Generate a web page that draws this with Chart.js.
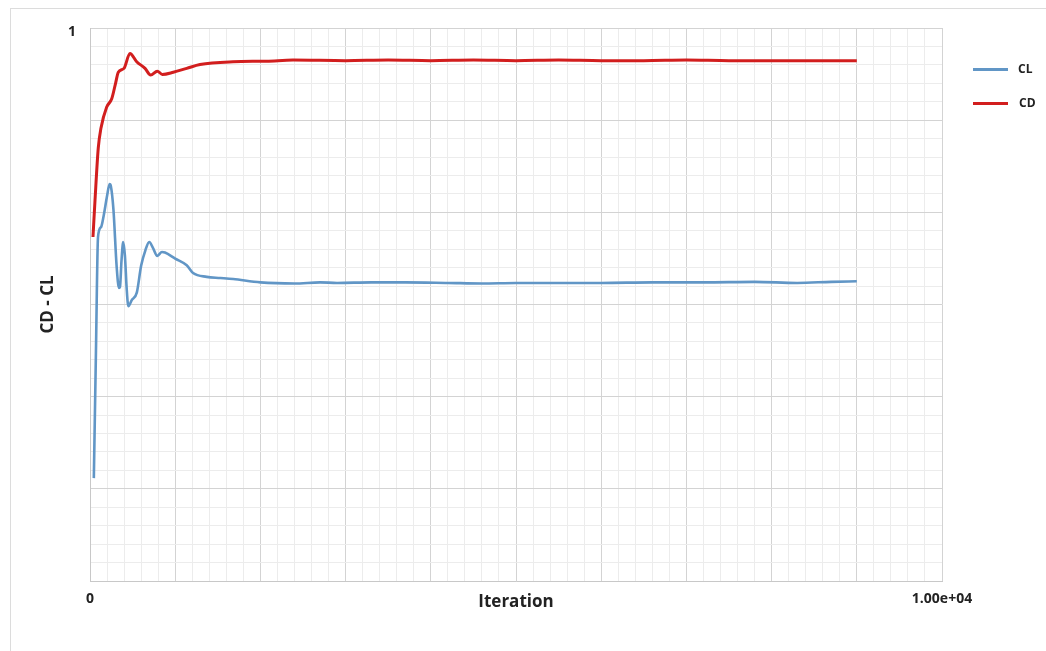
<!DOCTYPE html>
<html>
<head>
<meta charset="utf-8">
<script src="https://cdn.jsdelivr.net/npm/chart.js@4"></script>
<style>
  html, body { margin: 0; padding: 0; background: #ffffff; }
  #wrap { position: relative; width: 1046px; height: 651px; overflow: hidden; background: #fff; }
  #frame { position: absolute; left: 10px; top: 8px; width: 1100px; height: 700px;
           border-left: 1px solid #dcdcdc; border-top: 1px solid #dcdcdc; pointer-events: none; }
  canvas { position: absolute; left: 0; top: 0; }
  .leg { position: absolute; font-family: "Open Sans", "Liberation Sans", sans-serif; font-weight: bold;
         font-size: 12px; color: #222; }
  .leg .ln { position: absolute; width: 35px; height: 3px; }
  .leg .tx { position: absolute; white-space: nowrap; }
</style>
</head>
<body>
<div id="wrap">
  <div id="frame"></div>
  <canvas id="c" width="1046" height="651"></canvas>
  <div id="legend"></div>
</div>
<script>
// ---- data ----
const seriesNames = ['CL', 'CD'];
const seriesColors = ['#6196c6', '#d21e1e'];

const clIter = [45, 70, 94, 130, 160, 200, 230, 245, 275, 313, 340, 352, 370, 390, 410, 430, 450, 490, 550, 600, 650, 695, 740, 790, 845, 880, 1000, 1135, 1210, 1370, 1530, 1680, 2000, 2400, 2700, 2900, 3300, 3700, 4200, 4600, 5000, 5500, 6000, 6600, 7200, 7800, 8300, 8700, 9000];
const clValues = [0.186, 0.417, 0.622, 0.640, 0.660, 0.696, 0.718, 0.714, 0.672, 0.568, 0.530, 0.532, 0.580, 0.613, 0.588, 0.530, 0.497, 0.508, 0.522, 0.570, 0.598, 0.613, 0.602, 0.588, 0.595, 0.594, 0.583, 0.571, 0.557, 0.550, 0.548, 0.546, 0.540, 0.538, 0.540, 0.539, 0.540, 0.540, 0.539, 0.538, 0.539, 0.539, 0.539, 0.540, 0.540, 0.541, 0.539, 0.541, 0.542];

const cdIter = [35, 59, 97, 129, 196, 255, 300, 332, 399, 469, 548, 646, 712, 790, 849, 978, 1135, 1291, 1678, 2074, 2383, 3000, 3500, 4000, 4500, 5000, 5500, 6000, 6500, 7000, 7500, 8000, 8500, 9000];
const cdValues = [0.622, 0.689, 0.783, 0.819, 0.857, 0.872, 0.900, 0.920, 0.927, 0.954, 0.939, 0.927, 0.915, 0.922, 0.916, 0.920, 0.927, 0.934, 0.939, 0.940, 0.942, 0.941, 0.942, 0.941, 0.942, 0.941, 0.942, 0.941, 0.941, 0.942, 0.941, 0.941, 0.941, 0.941];

const xMin = 0, xMax = 10000, xMinorStep = 200, xMajorEvery = 5;
const yMin = 0, yMax = 1, yDivisions = 30, yMajorEvery = 5;
const xTickLabels = {0: '0', 10000: '1.00e+04'};
const yTickLabels = {30: '1'};
const xTitle = 'Iteration';
const yTitle = 'CD - CL';

// ---- build ----
const toPts = (xs, ys) => xs.map((x, i) => ({x: x, y: ys[i]}));

const majorGrid = '#d3d3d3', minorGrid = '#ececec';
const fontFam = '"Open Sans", "Liberation Sans", sans-serif';

new Chart(document.getElementById('c'), {
  type: 'line',
  data: {
    datasets: [
      { label: seriesNames[0], data: toPts(clIter, clValues), borderColor: seriesColors[0],
        borderWidth: 2.6, pointRadius: 0, cubicInterpolationMode: 'monotone', fill: false },
      { label: seriesNames[1], data: toPts(cdIter, cdValues), borderColor: seriesColors[1],
        borderWidth: 3, pointRadius: 0, cubicInterpolationMode: 'monotone', fill: false }
    ]
  },
  options: {
    responsive: false,
    animation: false,
    events: [],
    layout: { padding: { left: 38, right: 104, top: 28, bottom: 39 } },
    plugins: { legend: { display: false }, tooltip: { enabled: false } },
    scales: {
      x: {
        type: 'linear', min: xMin, max: xMax,
        afterBuildTicks: (s) => {
          const t = [];
          for (let v = xMin; v <= xMax; v += xMinorStep) t.push({value: v});
          s.ticks = t;
        },
        afterFit: (s) => { s.height = 31; },
        grid: {
          drawTicks: false,
          color: (ctx) => (ctx.index % xMajorEvery === 0 ? majorGrid : minorGrid),
          lineWidth: 1
        },
        border: { color: '#c8c8c8', width: 1 },
        ticks: {
          autoSkip: false, maxRotation: 0, minRotation: 0, padding: 10,
          color: '#222', font: { family: fontFam, weight: 'bold', size: 14 },
          callback: (v) => (xTickLabels[v] !== undefined ? xTickLabels[v] : '')
        },
        title: {
          display: true, text: xTitle, padding: 0, color: '#222',
          font: { family: fontFam, weight: 'bold', size: 17 }
        }
      },
      y: {
        type: 'linear', min: yMin, max: yMax,
        afterBuildTicks: (s) => {
          const t = [];
          for (let i = 0; i <= yDivisions; i++) t.push({value: yMin + (yMax - yMin) * i / yDivisions});
          s.ticks = t;
        },
        afterFit: (s) => { s.width = 52; },
        grid: {
          drawTicks: false,
          color: (ctx) => (ctx.index % yMajorEvery === 0 ? majorGrid : minorGrid),
          lineWidth: 1
        },
        border: { color: '#c8c8c8', width: 1 },
        ticks: {
          autoSkip: false, padding: 14, labelOffset: 4,
          color: '#222', font: { family: fontFam, weight: 'bold', size: 14 },
          callback: (v, i) => (yTickLabels[i] !== undefined ? yTickLabels[i] : '')
        },
        title: {
          display: true, text: yTitle, padding: 0, color: '#222',
          font: { family: fontFam, weight: 'bold', size: 17 }
        }
      }
    }
  }
});

// ---- HTML legend built from the series ----
const legend = document.getElementById('legend');
const legTop = [69, 103];
seriesNames.forEach((name, i) => {
  const d = document.createElement('div');
  d.className = 'leg';
  d.style.left = '0px'; d.style.top = '0px';
  const ln = document.createElement('div');
  ln.className = 'ln';
  ln.style.left = '973px'; ln.style.top = (legTop[i] - 1) + 'px';
  ln.style.background = seriesColors[i];
  const tx = document.createElement('div');
  tx.className = 'tx';
  tx.textContent = name;
  tx.style.left = (i === 0 ? 1018 : 1019) + 'px'; tx.style.top = (legTop[i] - 9) + 'px';
  d.appendChild(ln); d.appendChild(tx);
  legend.appendChild(d);
});
</script>
</body>
</html>
